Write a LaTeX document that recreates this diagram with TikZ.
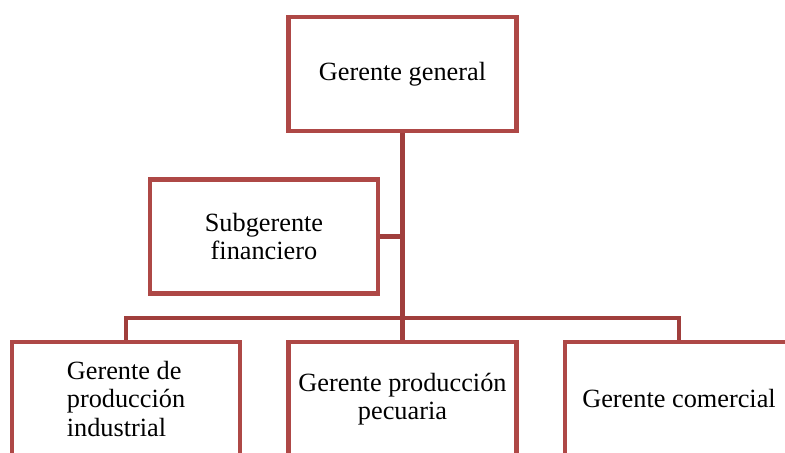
\documentclass[tikz,border=0pt]{standalone}
\usepackage{fontspec}
\setmainfont{Liberation Serif}
\usepackage{tikz}

\definecolor{boxred}{RGB}{174,72,70}
\definecolor{linered}{RGB}{160,62,60}

\begin{document}
\begin{tikzpicture}[x=0.025cm, y=-0.025cm,
        cargo/.style={
          draw=boxred, line width=3.5pt, fill=white, inner sep=0pt,
          minimum width=5.7cm, minimum height=2.85cm,
          font=\fontsize{18.7}{20.1}\selectfont
        },
        enlace/.style={
          draw=linered, line width=3.5pt
        }
      ]
      \path [use as bounding box, clip] (0,0) rectangle (785,453);
      \node [cargo] (gg) at (402.5,74) {Gerente general};
      \node [cargo, align=center] (sf) at (264,236.5) {Subgerente\\financiero};
      \node [cargo, align=left] (gpi) at (126,399) {Gerente de\\producción\\industrial};
      \node [cargo, align=center] (gpp) at (402.5,399) {Gerente producción\\pecuaria};
      \node [cargo] (gc) at (679,399) {Gerente comercial};
      \coordinate (bus) at (402.5,318);
      \draw [enlace] (gg.south) -- (gpp.north);
      \draw [enlace] (sf.east) -- (sf.east -| gg.south);
      \draw [enlace] (gpi.north) |- (bus) -| (gc.north);
    \end{tikzpicture}
\end{document}
